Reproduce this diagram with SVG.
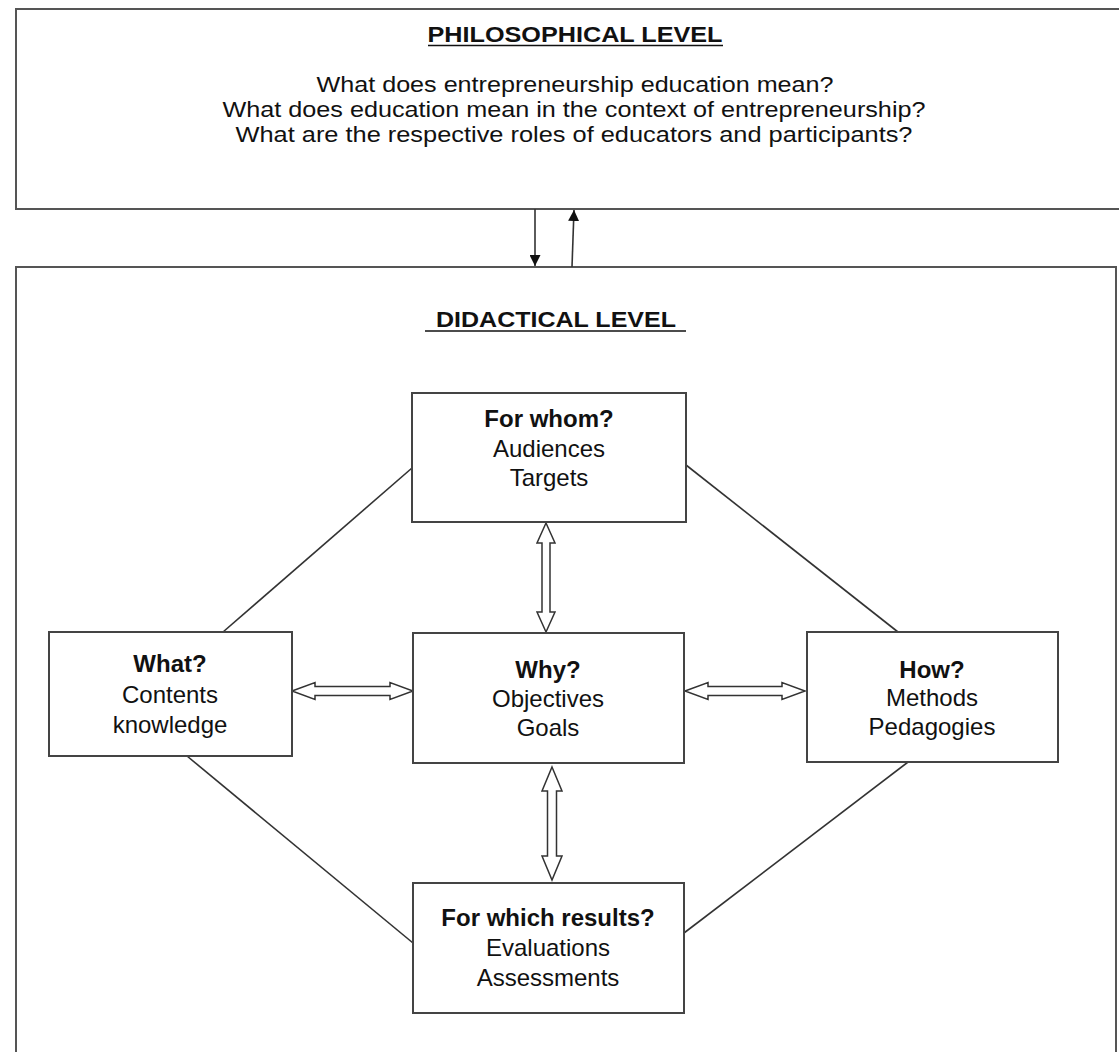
<svg xmlns="http://www.w3.org/2000/svg" width="1119" height="1052" viewBox="0 0 1119 1052">
<style>
.frame{fill:none;stroke:#555;stroke-width:2}
.box{fill:#fff;stroke:#444;stroke-width:2}
.ln{fill:none;stroke:#333;stroke-width:1.6}
.dbl{fill:#fff;stroke:#333;stroke-width:1.5;stroke-linejoin:miter}
.t{font-family:"Liberation Sans",Arial,sans-serif;fill:#111;text-anchor:middle}
.h{font-size:22px;font-weight:bold}
.q{font-size:22px}
.b{font-size:24px}
.bb{font-size:24px;font-weight:bold}
.ul{stroke:#111;stroke-width:1.5}
</style>
<defs>
<marker id="ah" viewBox="0 0 10 10" refX="10" refY="5" markerWidth="11" markerHeight="11" markerUnits="userSpaceOnUse" orient="auto">
<path d="M0,0 L10,5 L0,10 Z" fill="#111"/>
</marker>
</defs>
<rect width="1119" height="1052" fill="#fff"/>
<g id="philosophical">
<path class="frame" d="M1121,9 H16 V209 H1121"/>
<text class="t h" x="575" y="42" textLength="295" lengthAdjust="spacingAndGlyphs">PHILOSOPHICAL LEVEL</text>
<line class="ul" x1="428" y1="45.5" x2="723" y2="45.5"/>
<text class="t q" x="575" y="92" textLength="517" lengthAdjust="spacingAndGlyphs">What does entrepreneurship education mean?</text>
<text class="t q" x="574" y="117" textLength="703" lengthAdjust="spacingAndGlyphs">What does education mean in the context of entrepreneurship?</text>
<text class="t q" x="574" y="142" textLength="677" lengthAdjust="spacingAndGlyphs">What are the respective roles of educators and participants?</text>
</g>
<g id="didactical">
<path class="frame" d="M16,1054 V267 H1116 V1054"/>
<text class="t h" x="556" y="327" textLength="240" lengthAdjust="spacingAndGlyphs">DIDACTICAL LEVEL</text>
<line class="ul" x1="425" y1="331" x2="686" y2="331"/>
</g>
<g id="connectors">
<line class="ln" x1="535" y1="209" x2="535" y2="266" marker-end="url(#ah)"/>
<line class="ln" x1="572" y1="267" x2="574" y2="210" marker-end="url(#ah)"/>
<line class="ln" x1="412" y1="468" x2="223" y2="632"/>
<line class="ln" x1="686" y1="465" x2="898" y2="632"/>
<line class="ln" x1="187" y1="756" x2="413" y2="943"/>
<line class="ln" x1="908" y1="762" x2="684" y2="933"/>
<path class="dbl" d="M546,523 L555,543 L550,543 L550,612 L555,612 L546,632 L537,612 L542,612 L542,543 L537,543 Z"/>
<path class="dbl" d="M552,767 L562,791 L556.5,791 L556.5,856 L562,856 L552,880 L542,856 L547.5,856 L547.5,791 L542,791 Z"/>
<path class="dbl" d="M292,691 L315,682.5 L315,686.5 L390,686.5 L390,682.5 L413,691 L390,699.5 L390,695.5 L315,695.5 L315,699.5 Z"/>
<path class="dbl" d="M685,691 L708,682.5 L708,686.5 L782,686.5 L782,682.5 L805,691 L782,699.5 L782,695.5 L708,695.5 L708,699.5 Z"/>
</g>
<g id="for-whom">
<rect class="box" x="412" y="393" width="274" height="129"/>
<text class="t bb" x="549" y="427">For whom?</text>
<text class="t b" x="549" y="457">Audiences</text>
<text class="t b" x="549" y="486">Targets</text>
</g>
<g id="what">
<rect class="box" x="49" y="632" width="243" height="124"/>
<text class="t bb" x="170" y="672">What?</text>
<text class="t b" x="170" y="703">Contents</text>
<text class="t b" x="170" y="733">knowledge</text>
</g>
<g id="why">
<rect class="box" x="413" y="633" width="271" height="130"/>
<text class="t bb" x="548" y="678">Why?</text>
<text class="t b" x="548" y="707">Objectives</text>
<text class="t b" x="548" y="736">Goals</text>
</g>
<g id="how">
<rect class="box" x="807" y="632" width="251" height="130"/>
<text class="t bb" x="932" y="678">How?</text>
<text class="t b" x="932" y="706">Methods</text>
<text class="t b" x="932" y="735">Pedagogies</text>
</g>
<g id="for-which-results">
<rect class="box" x="413" y="883" width="271" height="130"/>
<text class="t bb" x="548" y="926">For which results?</text>
<text class="t b" x="548" y="956">Evaluations</text>
<text class="t b" x="548" y="986">Assessments</text>
</g>
</svg>
